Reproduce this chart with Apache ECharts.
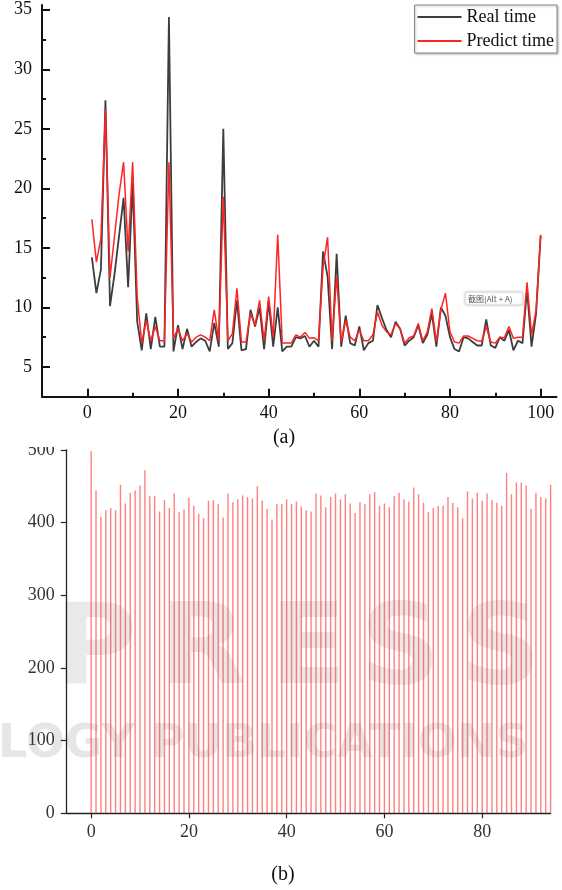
<!DOCTYPE html>
<html>
<head>
<meta charset="utf-8">
<script src="https://cdn.jsdelivr.net/npm/echarts@6/dist/echarts.min.js"></script>
<style>
html,body{margin:0;padding:0;background:#fff;}
#c{width:562px;height:890px;}
</style>
</head>
<body>
<div id="c"></div>
<script>
// ---------- Data (a) ----------
const sampleIndex = [1,2,3,4,5,6,7,8,9,10,11,12,13,14,15,16,17,18,19,20,21,22,23,24,25,26,27,28,29,30,31,32,33,34,35,36,37,38,39,40,41,42,43,44,45,46,47,48,49,50,51,52,53,54,55,56,57,58,59,60,61,62,63,64,65,66,67,68,69,70,71,72,73,74,75,76,77,78,79,80,81,82,83,84,85,86,87,88,89,90,91,92,93,94,95,96,97,98,99,100];
const realTime = [14.2,11.2,13.2,27.4,10.1,12.8,16.0,19.2,11.7,20.5,8.8,6.4,9.5,6.5,9.2,6.7,6.7,34.4,6.3,8.5,6.5,8.2,6.7,7.1,7.4,7.2,6.3,8.7,6.7,25.0,6.5,7.0,10.6,6.4,6.5,9.8,8.4,10.0,6.5,10.5,6.7,10.0,6.3,6.7,6.7,7.5,7.4,7.6,6.7,7.2,6.7,14.7,12.6,6.5,14.5,6.7,9.3,7.0,6.8,8.4,6.4,7.0,7.2,10.2,9.1,8.1,7.5,8.8,8.2,6.8,7.2,7.5,8.5,7.0,7.7,9.5,6.7,10.0,9.3,7.5,6.5,6.3,7.5,7.4,7.1,6.8,6.8,9.0,6.8,6.6,7.5,7.2,8.1,6.4,7.2,7.0,11.5,6.7,9.5,16.0];
const predictTime = [17.4,13.8,15.8,26.6,12.5,16.0,19.5,22.2,14.7,22.2,10.9,7.0,8.9,7.2,8.4,7.2,7.2,22.2,7.4,8.2,7.2,7.8,7.1,7.5,7.7,7.5,7.2,9.8,7.2,19.3,7.2,7.8,11.6,7.1,7.1,9.5,8.5,10.6,7.2,10.9,7.5,16.1,7.0,7.0,7.0,7.7,7.5,7.9,7.4,7.45,7.2,13.4,15.9,7.2,12.6,7.1,8.9,7.5,7.2,8.1,7.2,7.2,7.7,9.6,8.5,7.95,7.7,8.65,8.2,7.0,7.45,7.6,8.65,7.2,7.95,9.9,7.1,9.8,11.2,7.95,7.1,7.0,7.6,7.6,7.4,7.2,7.15,8.4,7.1,7.0,7.5,7.45,8.4,7.4,7.5,7.5,12.1,7.7,9.8,16.1];
const seriesNames = ['Real time', 'Predict time'];
const topYTicks = [5,10,15,20,25,30,35];
const topYMinor = [7.5,12.5,17.5,22.5,27.5,32.5];
const topXTicks = [0,20,40,60,80,100];
const topXMinor = [10,30,50,70,90];

// ---------- Data (b) ----------
const barIndex = [0,1,2,3,4,5,6,7,8,9,10,11,12,13,14,15,16,17,18,19,20,21,22,23,24,25,26,27,28,29,30,31,32,33,34,35,36,37,38,39,40,41,42,43,44,45,46,47,48,49,50,51,52,53,54,55,56,57,58,59,60,61,62,63,64,65,66,67,68,69,70,71,72,73,74,75,76,77,78,79,80,81,82,83,84,85,86,87,88,89,90,91,92,93,94];
const barValues = [498,444,408,417,420,417,452,426,441,444,451,472,436,436,415,431,420,440,414,418,434,423,412,406,430,431,425,407,440,428,432,437,435,433,450,430,419,404,425,425,432,425,429,422,417,415,440,437,421,435,440,432,439,426,413,428,425,439,442,423,426,421,436,441,432,429,448,439,427,414,420,423,423,435,427,421,406,443,433,441,430,440,431,427,423,468,439,455,455,451,419,441,435,433,452];
const botXTicks = [0,20,40,60,80];
const botYTicks = [0,100,200,300,400,500];

// ---------- Build ----------
const serif = 'Liberation Serif';
const chart = echarts.init(document.getElementById('c'), null, {renderer: 'canvas'});

const pairs = arr => arr.map((v, i) => [sampleIndex[i], v]);

const option = {
  backgroundColor: '#fff',
  animation: false,
  grid: [
    {left: 42, top: 5, width: 514.5, height: 391.7, containLabel: false},
    {left: 66.7, top: 449.8, width: 483.9, height: 363.5, containLabel: false}
  ],
  legend: {
    orient: 'vertical',
    right: 5, top: 5,
    data: seriesNames,
    icon: 'rect',
    itemWidth: 44, itemHeight: 2,
    itemGap: 6,
    padding: [3, 3, 3, 3],
    borderColor: '#8a8a8a', borderWidth: 1,
    backgroundColor: '#fff',
    shadowColor: 'rgba(0,0,0,0.25)', shadowBlur: 2, shadowOffsetX: 1, shadowOffsetY: 1,
    textStyle: {fontFamily: serif, fontSize: 18, color: '#111', padding: [0,0,0,0]}
  },
  xAxis: [
    {gridIndex: 0, type: 'value', min: -10, max: 103.5,
     axisLine: {show: true, onZero: false, lineStyle: {color: '#111', width: 2}},
     axisTick: {show: true, inside: true, length: 8, customValues: topXTicks, lineStyle: {color: '#111', width: 2}},
     axisLabel: {show: true, customValues: topXTicks, margin: 8, fontFamily: serif, fontSize: 18, color: '#111'},
     splitLine: {show: false}},
    {gridIndex: 0, type: 'value', min: -10, max: 103.5, position: 'bottom',
     axisLine: {show: false, onZero: false},
     axisTick: {show: true, inside: true, length: 4, customValues: topXMinor, lineStyle: {color: '#111', width: 2}},
     axisLabel: {show: false}, splitLine: {show: false}},
    {gridIndex: 1, type: 'value', min: -5, max: 94,
     axisLine: {show: true, onZero: false, lineStyle: {color: '#222', width: 1.3}},
     axisTick: {show: true, length: 5, customValues: botXTicks, lineStyle: {color: '#222', width: 1.2}},
     axisLabel: {show: true, customValues: botXTicks, margin: 10, fontFamily: serif, fontSize: 18, color: '#333'},
     splitLine: {show: false}}
  ],
  yAxis: [
    {gridIndex: 0, type: 'value', min: 2.5, max: 35.4,
     axisLine: {show: true, onZero: false, lineStyle: {color: '#111', width: 2}},
     axisTick: {show: true, inside: true, length: 8, customValues: topYTicks, lineStyle: {color: '#111', width: 2}},
     axisLabel: {show: true, customValues: topYTicks, margin: 10, fontFamily: serif, fontSize: 18, color: '#111'},
     splitLine: {show: false}},
    {gridIndex: 0, type: 'value', min: 2.5, max: 35.4, position: 'left',
     axisLine: {show: false, onZero: false},
     axisTick: {show: true, inside: true, length: 4, customValues: topYMinor, lineStyle: {color: '#111', width: 2}},
     axisLabel: {show: false}, splitLine: {show: false}},
    {gridIndex: 1, type: 'value', min: 0, max: 500, interval: 100,
     axisLine: {show: true, onZero: false, lineStyle: {color: '#222', width: 1.3}},
     axisTick: {show: true, length: 6, lineStyle: {color: '#222', width: 1.2}},
     axisLabel: {show: true, margin: 12, fontFamily: serif, fontSize: 18, color: '#333'},
     splitLine: {show: false}}
  ],
  series: [
    {name: seriesNames[0], type: 'line', xAxisIndex: 0, yAxisIndex: 0,
     data: pairs(realTime), showSymbol: false, symbol: 'none',
     lineStyle: {color: '#3d3d3d', width: 1.8}, itemStyle: {color: '#3d3d3d'}, z: 3},
    {name: seriesNames[1], type: 'line', xAxisIndex: 0, yAxisIndex: 0,
     data: pairs(predictTime), showSymbol: false, symbol: 'none',
     lineStyle: {color: '#ff2424', width: 1.5}, itemStyle: {color: '#ff2424'}, z: 4},
    {name: 'bars', type: 'bar', xAxisIndex: 2, yAxisIndex: 2,
     data: barValues.map((v, i) => [barIndex[i], v]),
     barWidth: 1.4, itemStyle: {color: 'rgba(255,50,50,0.62)'}, z: 3}
  ],
  graphic: [
    // faint publisher watermark behind panel (b)
    {type: 'group', z: 0, silent: true, children: [
      {type: 'text', left: 55, top: 598, style: {text: 'P', fill: '#e9e9e9', font: 'bold 112px "DejaVu Sans"'}},
      {type: 'text', left: 160, top: 598, style: {text: 'R', fill: '#e9e9e9', font: 'bold 112px "DejaVu Sans"'}},
      {type: 'text', left: 270, top: 598, style: {text: 'E', fill: '#e9e9e9', font: 'bold 112px "DejaVu Sans"'}},
      {type: 'text', left: 360, top: 598, style: {text: 'S', fill: '#e9e9e9', font: 'bold 112px "DejaVu Sans"'}},
      {type: 'text', left: 460, top: 598, style: {text: 'S', fill: '#e9e9e9', font: 'bold 112px "DejaVu Sans"'}},
      {type: 'text', left: -2, top: 722, style: {text: 'LOGY PUBLICATIONS', fill: '#e6e6e6', font: 'bold 46px "DejaVu Sans"'}}
    ]},
    // cropped top edge of panel (b)
    {type: 'rect', z: 100, shape: {x: 0, y: 438, width: 62, height: 9}, style: {fill: '#fff'}},
    // captions
    {type: 'text', z: 100, x: 284, y: 438, style: {text: '(a)', fill: '#111', font: '20px "Liberation Serif"', align: 'center', verticalAlign: 'middle'}},
    {type: 'text', z: 100, x: 283, y: 875, style: {text: '(b)', fill: '#111', font: '20px "Liberation Serif"', align: 'center', verticalAlign: 'middle'}},
    // screenshot tooltip artefact
    {type: 'rect', z: 100, shape: {x: 465, y: 292, width: 58, height: 13, r: 2},
     style: {fill: '#fff', stroke: '#d8d8d8', lineWidth: 1, shadowColor: 'rgba(0,0,0,0.15)', shadowBlur: 3}},
    {type: 'text', z: 101, x: 468, y: 298.5, style: {text: '截图(Alt + A)', fill: '#555', font: '8px "Noto Sans CJK SC"', verticalAlign: 'middle'}}
  ]
};
chart.setOption(option);
</script>
</body>
</html>
